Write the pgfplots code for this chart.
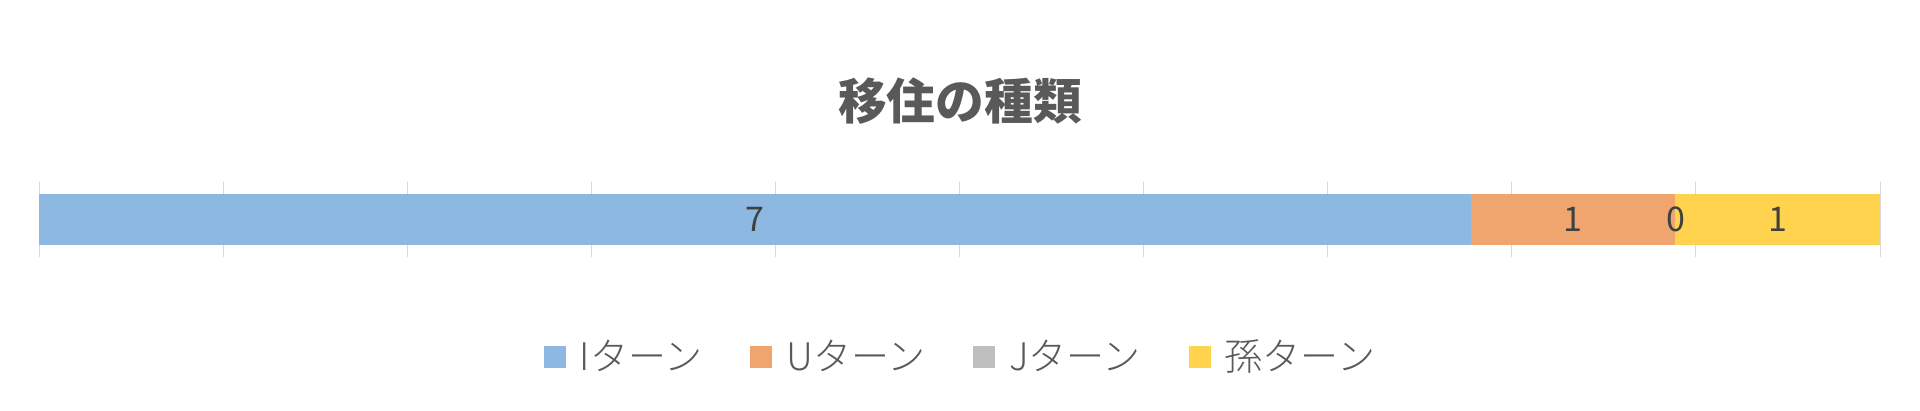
\documentclass[border=0pt]{standalone}
\usepackage{pgfplots}
\pgfplotsset{compat=1.18}
\usepackage{fontspec}
\setmainfont{Noto Sans CJK JP}
\newfontfamily\cjklight{Noto Sans CJK JP Light}

\definecolor{cI}{HTML}{8DB8E2}
\definecolor{cU}{HTML}{F0A46E}
\definecolor{cJ}{HTML}{BFBFBF}
\definecolor{cMago}{HTML}{FFD34D}
\definecolor{cText}{HTML}{595959}
\definecolor{cLabel}{HTML}{404040}
\definecolor{cGrid}{HTML}{D9D9D9}

\pgfplotsset{
  bar frame/.style={
    at={(15.6pt,61.2pt)}, anchor=south west,
    scale only axis, width=736.4pt, height=30pt,
    xmin=0, xmax=9, ymin=-0.5, ymax=0.5,
    xtick={0,0.9,1.8,2.7,3.6,4.5,5.4,6.3,7.2,8.1,9},
    xticklabels={}, ytick=\empty,
    axis line style={draw=none}, major tick length=0pt,
  },
}

\begin{document}
\begin{tikzpicture}
\path[use as bounding box] (0,0) rectangle (768pt,164pt);
\node[font=\fontsize{19.5}{23}\selectfont\bfseries, text=cText] at (384pt,123.6pt) {移住の種類};

\begin{axis}[
  bar frame,
  xbar stacked, bar width=20.4pt,
  xmajorgrids, major grid style={draw=cGrid, line width=0.4pt},
  legend columns=4,
  legend style={at={(0.5,-1.333)}, anchor=center, draw=none, fill=none,
    font=\cjklight\fontsize{15.2}{18}\selectfont, text=cText,
    nodes={inner sep=0pt},
    /tikz/every odd column/.append style={column sep=5.6pt},
    /tikz/every even column/.append style={column sep=19.2pt}},
  legend image code/.code={\fill[#1] (0pt,-4.4pt) rectangle (8.8pt,4.4pt);},
]
\addplot[fill=cI, draw=none] coordinates {(7,0)};
\addplot[fill=cU, draw=none] coordinates {(1,0)};
\addplot[fill=cJ, draw=none] coordinates {(0,0)};
\addplot[fill=cMago, draw=none] coordinates {(1,0)};
\legend{Iターン, Uターン, Jターン, 孫ターン}
\end{axis}

% the same values stacked once more, as marks only: each label sits at the
% end of its segment and is moved back by half the segment (40.911pt per unit)
\begin{axis}[
  bar frame,
  stack plots=x,
  point meta=explicit symbolic,
  nodes near coords,
  visualization depends on={rawx \as \rawx},
  every node near coord/.append style={anchor=center, xshift={-\rawx*40.911pt},
    font=\fontsize{13.6}{16}\selectfont, text=cLabel},
]
\addplot[only marks, mark=none] coordinates {(7,0) [7]};
\addplot[only marks, mark=none] coordinates {(1,0) [1]};
\addplot[only marks, mark=none] coordinates {(0,0) [0]};
\addplot[only marks, mark=none] coordinates {(1,0) [1]};
\end{axis}
\end{tikzpicture}
\end{document}
